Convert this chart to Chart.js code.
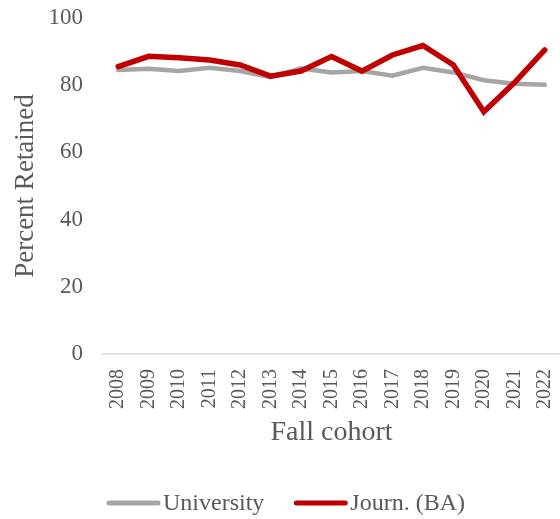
<!DOCTYPE html>
<html>
<head>
<meta charset="utf-8">
<script src="https://cdn.jsdelivr.net/npm/chart.js@4"></script>
<style>
html,body{margin:0;padding:0;background:#fff;}
#wrap{width:560px;height:519px;}
</style>
</head>
<body>
<div id="wrap"><canvas id="c" width="560" height="519"></canvas></div>
<script>
const categories = ["2008","2009","2010","2011","2012","2013","2014","2015","2016","2017","2018","2019","2020","2021","2022"];
const university = [84.5,84.9,84.2,85.2,84.2,82.4,85.0,83.8,84.2,82.8,85.2,83.8,81.5,80.4,80.1];
const journBA = [85.5,88.6,88.2,87.5,86.0,82.7,84.2,88.5,84.2,89.0,91.8,86.0,72.1,80.7,90.5];
const yTicks = [0,20,40,60,80,100];

const txt = '#595959';
const serif = '"Liberation Serif","Times New Roman",serif';

const bottomLegend = {
  id:'bottomLegend',
  afterDraw(chart){
    const ctx = chart.ctx;
    const y = 503;
    ctx.save();
    ctx.font = '24px ' + serif;
    ctx.textBaseline = 'middle';
    ctx.textAlign = 'left';
    let x = 107;
    chart.data.datasets.forEach((ds, i) => {
      const lineLen = 53;
      ctx.strokeStyle = ds.borderColor;
      ctx.lineWidth = 5;
      ctx.lineCap = 'round';
      ctx.beginPath();
      ctx.moveTo(x + 2, y);
      ctx.lineTo(x + lineLen - 2, y);
      ctx.stroke();
      x += lineLen + 3;
      ctx.fillStyle = txt;
      ctx.fillText(ds.label, x, y + 1);
      x += ctx.measureText(ds.label).width + 30;
    });
    ctx.restore();
  }
};

new Chart(document.getElementById('c'), {
  type: 'line',
  data: {
    labels: categories,
    datasets: [
      {label:'University', data: university, borderColor:'#A5A5A5', backgroundColor:'#A5A5A5', borderWidth:4.5, pointRadius:0, tension:0, borderCapStyle:'round', order:1},
      {label:'Journ. (BA)', data: journBA, borderColor:'#C00000', backgroundColor:'#C00000', borderWidth:5.5, pointRadius:0, tension:0, borderCapStyle:'round', order:0}
    ]
  },
  plugins:[bottomLegend],
  options: {
    responsive:false,
    animation:false,
    layout:{padding:{left:0,right:0,top:18,bottom:37}},
    plugins:{
      tooltip:{enabled:false},
      legend:{display:false}
    },
    scales:{
      x:{
        offset:true,
        afterFit:(s)=>{ s.height = 128; s.paddingLeft = 0; s.paddingRight = 0; },
        grid:{display:false, drawTicks:false},
        border:{display:true, color:'#D9D9D9', width:1.5},
        ticks:{color:txt, font:{family:serif,size:20}, minRotation:90, maxRotation:90, padding:15, autoSkip:false},
        title:{display:true, text:'Fall cohort', color:txt, font:{family:serif,size:28}, padding:{top:4,bottom:33}}
      },
      y:{
        min:0, max:100,
        afterBuildTicks:(s)=>{ s.ticks = yTicks.map(v=>({value:v})); },
        afterFit:(s)=>{ s.width = 103; s.paddingTop = 0; s.paddingBottom = 0; },
        grid:{display:false, drawTicks:false},
        border:{display:false},
        ticks:{color:txt, font:{family:serif,size:23}, padding:20},
        title:{display:true, text:'Percent Retained', color:txt, font:{family:serif,size:27}, padding:{top:10,bottom:0}}
      }
    }
  }
});
</script>
</body>
</html>
